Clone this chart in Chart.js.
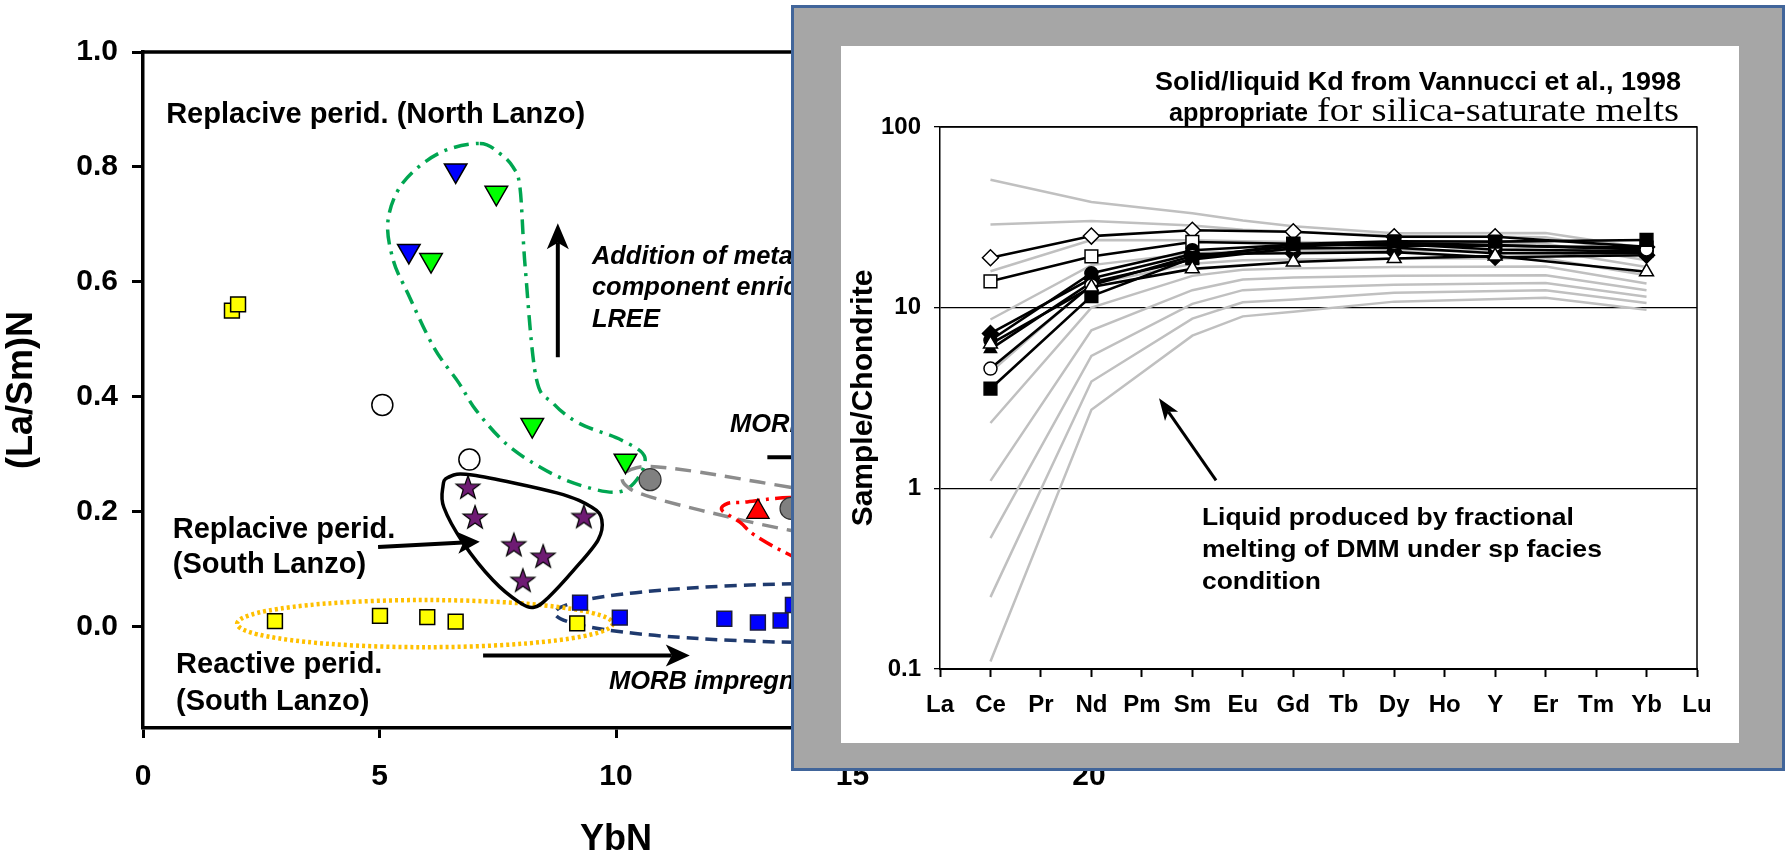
<!DOCTYPE html>
<html><head><meta charset="utf-8">
<script src="https://cdn.jsdelivr.net/npm/chart.js@4.4.1/dist/chart.umd.min.js"></script>
<style>
html,body{margin:0;padding:0;background:#fff;width:1785px;height:855px;overflow:hidden;}
#left{position:absolute;left:0;top:0;}
#inset{position:absolute;left:791px;top:5px;width:994px;height:766px;box-sizing:border-box;border:3px solid #41659A;background:#A6A6A6;}
#white{position:absolute;left:841px;top:46px;width:898px;height:697px;background:#fff;}
#right{position:absolute;left:841px;top:46px;}
</style></head><body>
<canvas id="left" width="1785" height="855"></canvas>
<div id="inset"></div>
<div id="white"></div>
<canvas id="right" width="898" height="697"></canvas>
<script>
// ---------------- LEFT PANEL DATA: YbN vs (La/Sm)N ----------------
const xTicksLeft = [0, 5, 10, 15, 20];
const yTicksLeft = [0.0, 0.2, 0.4, 0.6, 0.8, 1.0];

const reactiveYbN  = [1.88, 2.01, 2.79, 5.01, 6.01, 6.61, 9.18];
const reactiveLaSm = [0.550, 0.561, 0.010, 0.019, 0.017, 0.009, 0.006];

const morbImpYbN  = [9.24, 10.08, 12.29, 13.00, 13.48, 13.74];
const morbImpLaSm = [0.042, 0.016, 0.014, 0.0075, 0.011, 0.038];

const southReplYbN  = [6.87, 7.02, 7.84, 8.46, 8.03, 9.32];
const southReplLaSm = [0.243, 0.191, 0.143, 0.123, 0.081, 0.192];

const openCircleYbN  = [5.06, 6.90];
const openCircleLaSm = [0.386, 0.291];

const northBlueYbN  = [6.61, 5.62];
const northBlueLaSm = [0.794, 0.654];

const northGreenYbN  = [7.47, 6.09, 8.23, 10.20];
const northGreenLaSm = [0.755, 0.638, 0.351, 0.289];

const grayCircleYbN  = [10.72, 13.70];
const grayCircleLaSm = [0.256, 0.206];

const redTriYbN  = [13.00];
const redTriLaSm = [0.200];

// envelope outlines (data units)
const northEnvX = [7.12,7.55,7.82,7.97,8.08,8.31,8.67,9.22,10.11,10.61,10.38,9.94,9.11,8.39,7.67,7.04,6.68,6.15,5.60,5.29,5.18,5.50,6.26];
const northEnvY = [0.841,0.823,0.800,0.764,0.626,0.434,0.389,0.354,0.325,0.295,0.250,0.234,0.250,0.278,0.319,0.377,0.424,0.486,0.580,0.638,0.707,0.773,0.824];
const southEnvX = [6.45,6.96,8.75,9.49,9.70,9.62,9.11,8.58,8.27,7.95,7.40,6.77,6.36,6.34];
const southEnvY = [0.260,0.264,0.233,0.208,0.186,0.151,0.099,0.052,0.034,0.043,0.081,0.146,0.208,0.243];
const grayEnvX = [13.68,11.78,10.72,10.30,10.13,10.25,10.61,11.78,13.68,16.0,17.7,17.3,15.6];
const grayEnvY = [0.243,0.269,0.279,0.273,0.259,0.243,0.229,0.203,0.168,0.137,0.142,0.186,0.220];
const redEnvX = [13.68,12.73,12.37,12.24,12.62,12.94,13.68,14.9,16.0,15.5];
const redEnvY = [0.225,0.217,0.215,0.203,0.182,0.159,0.125,0.081,0.150,0.225];
const reactiveEllipse = [5.96, 0.0056, 3.97, 0.041];   // cx, cy, rx, ry
const morbEllipse     = [15.0, 0.024, 6.29, 0.052];

// ---------------- RIGHT PANEL DATA: REE patterns ----------------
const reeLabels = ['La','Ce','Pr','Nd','Pm','Sm','Eu','Gd','Tb','Dy','Ho','Y','Er','Tm','Yb','Lu'];
const yTicksRight = [0.1, 1, 10, 100];
const _ = null;
//                   La  Ce    Pr  Nd    Pm  Sm    Eu  Gd    Tb  Dy    Ho  Y     Er Tm  Yb    Lu
const sOpenDiamond = [_, 18.9, _, 24.9, _, 26.8, _, 26.3, _, 24.7, _, 24.7, _, _, 21.7, _];
const sOpenSquare  = [_, 14.0, _, 19.2, _, 23.1, _, 22.6, _, 22.0, _, 22.0, _, _, 21.5, _];
const sFillCircle  = [_, 6.6,  _, 15.5, _, 20.8, _, 22.3, _, 22.5, _, 21.0, _, _, 20.5, _];
const sFillDiamond = [_, 7.2,  _, 14.5, _, 19.8, _, 20.0, _, 20.3, _, 19.0, _, _, 19.5, _];
const sFillTri     = [_, 5.9,  _, 13.8, _, 18.5, _, 21.3, _, 21.5, _, 20.0, _, _, 20.0, _];
const sOpenCircle  = [_, 4.6,  _, 13.3, _, 19.3, _, 21.8, _, 22.8, _, 22.2, _, _, 21.0, _];
const sFillSquare  = [_, 3.56, _, 11.6, _, 18.8, _, 22.5, _, 23.3, _, 23.2, _, _, 23.7, _];
const sOpenTri     = [_, 6.3,  _, 13.0, _, 16.4, _, 17.9, _, 18.7, _, 19.3, _, _, 15.8, _];
//             La  Ce    Pr  Nd    Pm  Sm    Eu    Gd    Tb  Dy    Ho Y  Er     Tm  Yb    Lu
const liq1  = [_, 51,   _, 38.5, _, 33.3, 30.4, 28.2, _, 25.8, _, _, 25.9, _, 21.3, _];
const liq2  = [_, 28.9, _, 30.2, _, 28.5, 27.0, 26.3, _, 25.0, _, _, 24.5, _, 19.9, _];
const liq3  = [_, 15.9, _, 23.7, _, 23.6, 23.3, 23.1, _, 22.8, _, _, 22.6, _, 18.3, _];
const liq4  = [_, 8.6,  _, 17.2, _, 20.0, 20.5, 20.6, _, 20.7, _, _, 20.7, _, 16.8, _];
const liq5  = [_, 4.4,  _, 13.5, _, 17.5, 18.3, 18.5, _, 18.7, _, _, 18.7, _, 15.1, _];
const liq6  = [_, 2.3,  _, 10.0, _, 15.0, 16.2, 16.5, _, 16.8, _, _, 16.9, _, 13.6, _];
const liq7  = [_, 1.1,  _, 7.5,  _, 12.5, 14.3, 14.7, _, 15.0, _, _, 15.1, _, 12.5, _];
const liq8  = [_, 0.53, _, 5.4,  _, 10.5, 12.5, 12.9, _, 13.4, _, _, 13.7, _, 11.5, _];
const liq9  = [_, 0.25, _, 3.9,  _, 8.7,  10.7, 11.1, _, 12.1, _, _, 12.5, _, 10.6, _];
const liq10 = [_, 0.11, _, 2.72, _, 7.0,  8.95, 9.5,  _, 10.8, _, _, 11.35,_, 9.75, _];

// ---------------- helpers ----------------
const SANS = "'Liberation Sans', Arial, sans-serif";
const SERIF = "'Liberation Serif', 'DejaVu Serif', serif";
const zip = (xs, ys) => xs.map((v, i) => ({x: v, y: ys[i]}));

function starCanvas(){
  const c = document.createElement('canvas'); c.width = 28; c.height = 28;
  const g = c.getContext('2d'); g.beginPath();
  for (let i = 0; i < 10; i++) {
    const r = i % 2 === 0 ? 12.5 : 5.0;
    const a = -Math.PI/2 + i*Math.PI/5;
    const px = 14 + r*Math.cos(a), py = 15 + r*Math.sin(a);
    i === 0 ? g.moveTo(px, py) : g.lineTo(px, py);
  }
  g.closePath(); g.fillStyle = '#6E1B73'; g.fill(); g.lineWidth = 1.2; g.strokeStyle = '#000'; g.stroke();
  return c;
}

function smoothClosed(ctx, pts, color, width, dash){
  const n = pts.length;
  ctx.save(); ctx.beginPath();
  ctx.moveTo(pts[0][0], pts[0][1]);
  for (let i = 0; i < n; i++) {
    const p0 = pts[(i-1+n)%n], p1 = pts[i], p2 = pts[(i+1)%n], p3 = pts[(i+2)%n];
    const c1x = p1[0] + (p2[0]-p0[0])/6, c1y = p1[1] + (p2[1]-p0[1])/6;
    const c2x = p2[0] - (p3[0]-p1[0])/6, c2y = p2[1] - (p3[1]-p1[1])/6;
    ctx.bezierCurveTo(c1x, c1y, c2x, c2y, p2[0], p2[1]);
  }
  ctx.closePath(); ctx.strokeStyle = color; ctx.lineWidth = width; ctx.setLineDash(dash); ctx.stroke();
  ctx.restore();
}

function arrow(ctx, x1, y1, x2, y2, w, hl, hw){
  const ang = Math.atan2(y2-y1, x2-x1);
  const bx = x2 - Math.cos(ang)*hl*0.75, by = y2 - Math.sin(ang)*hl*0.75;
  ctx.save();
  ctx.strokeStyle = '#000'; ctx.fillStyle = '#000'; ctx.lineWidth = w; ctx.setLineDash([]);
  ctx.beginPath(); ctx.moveTo(x1, y1); ctx.lineTo(bx, by); ctx.stroke();
  const lx = x2 - Math.cos(ang)*hl, ly = y2 - Math.sin(ang)*hl;
  const nx = -Math.sin(ang)*hw/2, ny = Math.cos(ang)*hw/2;
  ctx.beginPath(); ctx.moveTo(x2, y2); ctx.lineTo(lx+nx, ly+ny); ctx.lineTo(bx, by); ctx.lineTo(lx-nx, ly-ny); ctx.closePath(); ctx.fill();
  ctx.restore();
}

// draws text; if width is given the text is stretched horizontally to that width
function text(ctx, str, x, y, font, align, width){
  ctx.save(); ctx.font = font; ctx.fillStyle = '#000'; ctx.textBaseline = 'middle';
  if (width) {
    const w0 = ctx.measureText(str).width, k = width / w0;
    const left = align === 'right' ? x - width : x;
    ctx.translate(left, y); ctx.scale(k, 1); ctx.textAlign = 'left'; ctx.fillText(str, 0, 0);
  } else {
    ctx.textAlign = align || 'left'; ctx.fillText(str, x, y);
  }
  ctx.restore();
}

// ---------------- LEFT CHART ----------------
const leftDecor = {
  id: 'leftDecor',
  beforeDatasetsDraw(chart){
    const {ctx, scales: {x, y}, chartArea: a} = chart;
    const P = (xs, ys) => xs.map((v, i) => [x.getPixelForValue(v), y.getPixelForValue(ys[i])]);
    ctx.save();
    ctx.strokeStyle = '#000'; ctx.lineWidth = 3.5;
    ctx.beginPath(); ctx.moveTo(a.left - 1.5, a.top); ctx.lineTo(a.right, a.top); ctx.lineTo(a.right, a.bottom); ctx.stroke();
    const ell = (e, color, w, dash) => {
      const cx = x.getPixelForValue(e[0]), cy = y.getPixelForValue(e[1]);
      const rx = Math.abs(x.getPixelForValue(e[0]+e[2]) - cx), ry = Math.abs(y.getPixelForValue(e[1]+e[3]) - cy);
      ctx.save(); ctx.beginPath(); ctx.ellipse(cx, cy, rx, ry, 0, 0, Math.PI*2);
      ctx.strokeStyle = color; ctx.lineWidth = w; ctx.setLineDash(dash); ctx.stroke(); ctx.restore();
    };
    ell(morbEllipse, '#1F3A6E', 3.5, [12, 7]);
    ell(reactiveEllipse, '#FFC000', 4.5, [3, 3]);
    smoothClosed(ctx, P(northEnvX, northEnvY), '#00A651', 3.5, [15, 7, 3, 7]);
    smoothClosed(ctx, P(southEnvX, southEnvY), '#000000', 3.5, []);
    smoothClosed(ctx, P(grayEnvX, grayEnvY), '#8C8C8C', 3.5, [16, 9]);
    smoothClosed(ctx, P(redEnvX, redEnvY), '#FF0000', 3.5, [15, 6, 3, 6]);
    ctx.restore();
  },
  afterDatasetsDraw(chart){
    const {ctx, scales: {x, y}} = chart;
    const X = v => x.getPixelForValue(v), Y = v => y.getPixelForValue(v);
    const B = "bold 29px " + SANS, I = "italic bold 25.5px " + SANS;
    text(ctx, 'Replacive perid. (North Lanzo)', X(0.49), Y(0.89), B);
    text(ctx, 'Replacive perid.', X(0.63), Y(0.168), B);
    text(ctx, '(South Lanzo)', X(0.63), Y(0.107), B);
    text(ctx, 'Reactive perid.', X(0.70), Y(-0.067), B);
    text(ctx, '(South Lanzo)', X(0.70), Y(-0.131), B);
    text(ctx, 'Addition of metasomatic', X(9.49), Y(0.643), I);
    text(ctx, 'component enriched in', X(9.49), Y(0.589), I);
    text(ctx, 'LREE', X(9.49), Y(0.533), I);
    text(ctx, 'MORB melt', X(12.41), Y(0.351), I);
    text(ctx, 'MORB impregnation', X(9.85), Y(-0.096), I);
    arrow(ctx, X(8.77), Y(0.469), X(8.77), Y(0.702), 4, 26, 22);
    arrow(ctx, X(4.97), Y(0.139), X(7.12), Y(0.148), 4, 22, 22);
    arrow(ctx, X(7.19), Y(-0.05), X(11.56), Y(-0.05), 4, 24, 22);
    ctx.save(); ctx.strokeStyle = '#000'; ctx.lineWidth = 4;
    ctx.beginPath(); ctx.moveTo(X(13.2), Y(0.295)); ctx.lineTo(X(16), Y(0.295)); ctx.stroke(); ctx.restore();
  }
};

const star = starCanvas();
new Chart(document.getElementById('left'), {
  type: 'scatter',
  data: { datasets: [
    {data: zip(grayCircleYbN, grayCircleLaSm), pointStyle: 'circle', pointRadius: 11, backgroundColor: '#808080', borderColor: '#333', borderWidth: 1.2},
    {data: zip(redTriYbN, redTriLaSm), pointStyle: 'triangle', pointRadius: 13, backgroundColor: '#FF0000', borderColor: '#000', borderWidth: 1.2},
    {data: zip(northBlueYbN, northBlueLaSm), pointStyle: 'triangle', rotation: 180, pointRadius: 13, backgroundColor: '#0000FF', borderColor: '#000', borderWidth: 1.5},
    {data: zip(northGreenYbN, northGreenLaSm), pointStyle: 'triangle', rotation: 180, pointRadius: 13, backgroundColor: '#00FF00', borderColor: '#000', borderWidth: 1.5},
    {data: zip(openCircleYbN, openCircleLaSm), pointStyle: 'circle', pointRadius: 10.5, backgroundColor: '#FFFFFF', borderColor: '#000', borderWidth: 1.5},
    {data: zip(southReplYbN, southReplLaSm), pointStyle: star, pointRadius: 12},
    {data: zip(morbImpYbN, morbImpLaSm), pointStyle: 'rect', pointRadius: 10.5, backgroundColor: '#0000FF', borderColor: '#1a1a40', borderWidth: 1.5},
    {data: zip(reactiveYbN, reactiveLaSm), pointStyle: 'rect', pointRadius: 10.5, backgroundColor: '#FFFF00', borderColor: '#000', borderWidth: 1.5}
  ]},
  options: {
    responsive: false, animation: false, devicePixelRatio: 1,
    layout: {padding: {top: 52, right: 696, bottom: 0, left: 0}},
    plugins: {legend: {display: false}, tooltip: {enabled: false}},
    scales: {
      x: {
        type: 'linear', min: 0, max: 20,
        afterFit: s => { s.height = 127; },
        afterBuildTicks: s => { s.ticks = xTicksLeft.map(v => ({value: v})); },
        ticks: {font: {family: SANS, size: 30, weight: 'bold'}, color: '#000', padding: 21, maxRotation: 0},
        grid: {display: true, drawOnChartArea: false, drawTicks: true, tickLength: 10, tickWidth: 3, tickColor: '#000', color: '#000'},
        border: {display: true, color: '#000', width: 3.5},
        title: {display: true, text: 'YbN', color: '#000', font: {family: SANS, size: 36, weight: 'bold', lineHeight: 0.8}, padding: {top: 0, bottom: 1}}
      },
      y: {
        type: 'linear', min: -0.176, max: 1.0,
        afterFit: s => { s.width = 143; },
        afterBuildTicks: s => { s.ticks = yTicksLeft.map(v => ({value: v})); },
        ticks: {font: {family: SANS, size: 30, weight: 'bold'}, color: '#000', padding: 14, callback: v => Number(v).toFixed(1)},
        grid: {display: true, drawOnChartArea: false, drawTicks: true, tickLength: 11, tickWidth: 3, tickColor: '#000', color: '#000'},
        border: {display: true, color: '#000', width: 3.5},
        title: {display: true, text: '(La/Sm)N', color: '#000', font: {family: SANS, size: 36, weight: 'bold', lineHeight: 1.2}, padding: {top: 0, bottom: 0}}
      }
    }
  },
  plugins: [leftDecor]
});

// ---------------- RIGHT CHART ----------------
const rightDecor = {
  id: 'rightDecor',
  afterDatasetsDraw(chart){
    const {ctx, scales: {x, y}, chartArea: a} = chart;
    ctx.save(); ctx.strokeStyle = '#000'; ctx.lineWidth = 1.5;
    ctx.beginPath(); ctx.moveTo(a.left, a.top); ctx.lineTo(a.right, a.top); ctx.lineTo(a.right, a.bottom); ctx.stroke(); ctx.restore();
    arrow(ctx, x.getPixelForValue(5.47), y.getPixelForValue(1.107), x.getPixelForValue(4.34), y.getPixelForValue(3.15), 3, 22, 16);
    const F = "bold 24px " + SANS;
    const tx = x.getPixelForValue(5.19);
    text(ctx, 'Liquid produced by fractional', tx, y.getPixelForValue(0.682), F, 'left', 372);
    text(ctx, 'melting of DMM under sp facies', tx, y.getPixelForValue(0.454), F, 'left', 400);
    text(ctx, 'condition', tx, y.getPixelForValue(0.302), F, 'left', 119);
    // title
    text(ctx, 'Solid/liquid Kd from Vannucci et al., 1998', 840, 37, "bold 25px " + SANS, 'right', 526);
    text(ctx, 'for silica-saturate melts', 838, 66, "34px " + SERIF, 'right', 362);
    text(ctx, 'appropriate', 838 - 362 - 9, 68, "bold 25px " + SANS, 'right', 139);
  }
};

const sample = (data, style, r, fill, rot) => ({
  data, order: 1, borderColor: '#000', borderWidth: 2.6, pointStyle: style, pointRadius: r,
  pointRotation: rot || 0, pointBackgroundColor: fill, pointBorderColor: '#000', pointBorderWidth: 1.5, spanGaps: true, tension: 0
});
const liquid = data => ({data, order: 2, borderColor: '#C0C0C0', borderWidth: 2.5, pointRadius: 0, spanGaps: true, tension: 0});

new Chart(document.getElementById('right'), {
  type: 'line',
  data: { labels: reeLabels, datasets: [
    sample(sOpenTri, 'triangle', 8, '#FFFFFF'),
    sample(sFillSquare, 'rect', 9, '#000000'),
    sample(sOpenCircle, 'circle', 6.5, '#FFFFFF'),
    sample(sFillTri, 'triangle', 7, '#000000'),
    sample(sFillDiamond, 'rectRot', 8, '#000000'),
    sample(sFillCircle, 'circle', 6.5, '#000000'),
    sample(sOpenSquare, 'rect', 9, '#FFFFFF'),
    sample(sOpenDiamond, 'rectRot', 8, '#FFFFFF'),
    liquid(liq1), liquid(liq2), liquid(liq3), liquid(liq4), liquid(liq5),
    liquid(liq6), liquid(liq7), liquid(liq8), liquid(liq9), liquid(liq10)
  ]},
  options: {
    responsive: false, animation: false, devicePixelRatio: 1,
    layout: {padding: {top: 81, right: 42, bottom: 0, left: 0}},
    plugins: {legend: {display: false}, tooltip: {enabled: false}},
    scales: {
      x: {
        type: 'category', offset: false,
        afterFit: s => { s.height = 74; },
        ticks: {font: {family: SANS, size: 24, weight: 'bold'}, color: '#000', padding: 14, autoSkip: false, maxRotation: 0},
        grid: {display: true, drawOnChartArea: false, drawTicks: true, tickLength: 8, tickWidth: 2, tickColor: '#000', offset: false},
        border: {display: true, color: '#000', width: 2}
      },
      y: {
        type: 'logarithmic', min: 0.1, max: 100,
        afterFit: s => { s.width = 99; },
        afterBuildTicks: s => { s.ticks = yTicksRight.map(v => ({value: v})); },
        ticks: {font: {family: SANS, size: 24, weight: 'bold'}, color: '#000', padding: 13, callback: v => String(v)},
        grid: {display: true, color: '#000', lineWidth: 1.3, drawTicks: true, tickLength: 6, tickColor: '#000'},
        border: {display: true, color: '#000', width: 1.5},
        title: {display: true, text: 'Sample/Chondrite', color: '#000', font: {family: SANS, size: 30, weight: 'bold', lineHeight: 1.2}, padding: {top: 5, bottom: 0}}
      }
    }
  },
  plugins: [rightDecor]
});
</script>
</body></html>
